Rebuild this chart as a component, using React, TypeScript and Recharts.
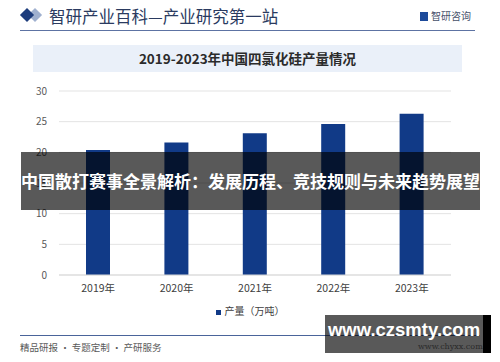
import React from "react";
import { BarChart, Bar, XAxis, YAxis, CartesianGrid } from "recharts";

// 2019-2023 China silicon tetrachloride output (10k tons)
const YEARS = ["2019年", "2020年", "2021年", "2022年", "2023年"];
const OUTPUT = [20.4, 21.6, 23.1, 24.6, 26.3];
const Y_TICKS = [0, 5, 10, 15, 20, 25, 30];

const NAVY = "#113a87";
const CJK = '"Noto Sans CJK SC", "Noto Sans", sans-serif';

const data = YEARS.map((year, i) => ({ year, output: OUTPUT[i] }));

export default function App() {
  return (
    <div
      style={{
        position: "absolute",
        top: 0,
        left: 0,
        width: 500,
        height: 362,
        background: "#fff",
        overflow: "hidden",
        fontFamily: CJK,
      }}
    >
      {/* header */}
      <div style={{ position: "absolute", left: 30, top: 10, width: 10, height: 10, background: "#9fb0cf", transform: "rotate(45deg)" }} />
      <div style={{ position: "absolute", left: 22, top: 10, width: 10, height: 10, background: "#1d3c7c", transform: "rotate(45deg)" }} />
      <div style={{ position: "absolute", left: 49, top: 4, fontSize: 16.5, color: "#2a3a60", whiteSpace: "nowrap", lineHeight: "24px" }}>
        智研产业百科—产业研究第一站
      </div>
      <div style={{ position: "absolute", left: 420, top: 12, width: 8, height: 9, background: "#1d4a9a" }} />
      <div style={{ position: "absolute", left: 431, top: 9, fontSize: 10, color: "#45506a", whiteSpace: "nowrap", lineHeight: "14px" }}>
        智研咨询
      </div>
      <div style={{ position: "absolute", left: 20, top: 30, width: 455, height: 1, background: "#5d73a3" }} />

      {/* chart title */}
      <div
        style={{
          position: "absolute",
          left: 33,
          top: 45,
          width: 429,
          height: 27,
          background: "#eaf0f9",
          textAlign: "center",
          lineHeight: "27px",
          fontSize: 13.5,
          fontWeight: 700,
          color: "#2b2b2b",
        }}
      >
        2019-2023年中国四氯化硅产量情况
      </div>

      {/* chart */}
      <div style={{ position: "absolute", left: 0, top: 0 }}>
        <BarChart width={500} height={362} data={data} margin={{ top: 91, right: 49, bottom: 57, left: 0 }}>
          <CartesianGrid vertical={false} stroke="#e3e3e3" />
          <XAxis
            dataKey="year"
            height={30}
            tickLine={false}
            axisLine={{ stroke: "#d9d9d9" }}
            tick={{ fill: "#404040", fontSize: 10.5, fontFamily: CJK }}
            tickMargin={4}
          />
          <YAxis
            width={59}
            domain={[0, 30]}
            ticks={Y_TICKS}
            tickLine={false}
            axisLine={false}
            tick={{ fill: "#595959", fontSize: 10, fontFamily: CJK }}
            tickMargin={6}
          />
          <Bar dataKey="output" fill={NAVY} barSize={24} isAnimationActive={false} />
        </BarChart>
      </div>

      {/* legend */}
      <div style={{ position: "absolute", left: 0, width: 500, top: 303, textAlign: "center", fontSize: 10, color: "#404040", lineHeight: "16px" }}>
        <span style={{ display: "inline-block", width: 5, height: 5, background: NAVY, marginRight: 4, verticalAlign: "middle" }} />
        产量（万吨）
      </div>

      {/* footer */}
      <div style={{ position: "absolute", left: 20, top: 335, width: 460, height: 1, background: "#4a649a" }} />
      <div style={{ position: "absolute", left: 20, top: 340, fontSize: 9.5, color: "#5a5a5a", whiteSpace: "nowrap", lineHeight: "14px" }}>
        精品研报 · 专题定制 · 产研服务
      </div>
      <div style={{ position: "absolute", left: 418, top: 342, fontSize: 8, color: "#7a7a7a", fontFamily: '"DejaVu Serif", serif', lineHeight: "10px" }}>
        www.chyxx.com
      </div>

      {/* overlay band */}
      <div
        style={{
          position: "absolute",
          left: 21,
          top: 152,
          width: 459,
          height: 58,
          background: "rgba(0,0,0,0.65)",
          color: "#fff",
          fontSize: 17,
          fontWeight: 700,
          textAlign: "center",
          lineHeight: "58px",
          whiteSpace: "nowrap",
        }}
      >
        中国散打赛事全景解析：发展历程、竞技规则与未来趋势展望
      </div>

      {/* bottom-right site box */}
      <div style={{ position: "absolute", left: 325, top: 315, width: 158, height: 38, background: "rgba(0,0,0,0.65)" }} />
      <div style={{ position: "absolute", left: 483, top: 315, width: 8, height: 38, background: "#000" }} />
      <div
        style={{
          position: "absolute",
          left: 325,
          top: 315,
          width: 158,
          height: 30,
          color: "#fff",
          fontFamily: '"Liberation Sans", Arial, sans-serif',
          fontWeight: 700,
          fontSize: 18.5,
          textAlign: "center",
          lineHeight: "30px",
        }}
      >
        www.czsmty.com
      </div>
    </div>
  );
}
